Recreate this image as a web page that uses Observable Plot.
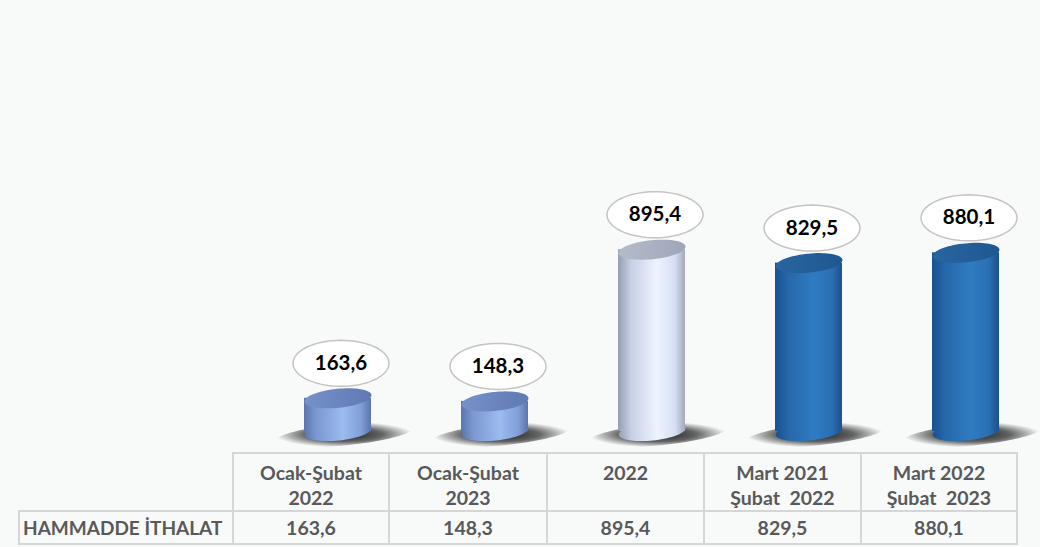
<!DOCTYPE html>
<html>
<head>
<meta charset="utf-8">
<script src="https://cdn.jsdelivr.net/npm/d3@7"></script>
<script src="https://cdn.jsdelivr.net/npm/@observablehq/plot@0.6"></script>
<style>
  html, body { margin: 0; padding: 0; background: #f8f9f9; }
  #wrap { position: relative; width: 1040px; height: 547px; overflow: hidden; font-family: Lato, "Open Sans", sans-serif; }
  #chart { position: absolute; left: 0; top: 0; }
  #tbl { position: absolute; left: 18px; top: 452px; border-collapse: collapse; table-layout: fixed; }
  #tbl td { border: 2px solid #d6d6d6; color: #595959; font-weight: bold; font-size: 19.5px; text-align: center; padding: 0; white-space: pre; }
  #tbl tr.head td { height: 58px; vertical-align: top; line-height: 25px; padding-top: 6px; box-sizing: border-box; }
  #tbl tr.head td.blank { border: none; }
  #tbl tr.vals td { height: 31px; vertical-align: middle; line-height: 31px; }
  #tbl td.name { text-align: left; padding-left: 3px; font-size: 19px; }
</style>
</head>
<body>
<div id="wrap"><div id="chart"></div><table id="tbl"></table></div>
<script>
// ---- data ----
const categories = ["Ocak-Şubat 2022", "Ocak-Şubat 2023", "2022", "Mart 2021 Şubat 2022", "Mart 2022 Şubat 2023"];
const headerLines = [["Ocak-Şubat", "2022"], ["Ocak-Şubat", "2023"], ["2022"], ["Mart 2021", "Şubat  2022"], ["Mart 2022", "Şubat  2023"]];
const values = [163.6, 148.3, 895.4, 829.5, 880.1];
const seriesName = "HAMMADDE İTHALAT";

// ---- helpers ----
const fmt = v => v.toFixed(1).replace(".", ",");
const toneOf = i => (i < 2 ? "light" : i === 2 ? "pale" : "dark");
const rows = categories.map((c, i) => ({cat: c, value: values[i], tone: toneOf(i)}));

function ellipse(rx, ry, rot = 0) {
  const c = Math.cos(rot), s = Math.sin(rot);
  return {
    draw(ctx) {
      const n = 72;
      for (let i = 0; i <= n; i++) {
        const t = 2 * Math.PI * i / n;
        const x = rx * Math.cos(t), y = ry * Math.sin(t);
        const X = x * c - y * s, Y = x * s + y * c;
        if (i === 0) ctx.moveTo(X, Y); else ctx.lineTo(X, Y);
      }
      ctx.closePath();
    }
  };
}
const tilt = -0.1;

const svg = Plot.plot({
  width: 1040,
  height: 452,
  margin: 0,
  style: {background: "transparent", fontFamily: "Lato, 'Open Sans', sans-serif", overflow: "visible"},
  x: {type: "band", domain: categories, range: [258, 1044], padding: 0, axis: null},
  y: {domain: [0, 1000], range: [431, 228], axis: null},
  color: {type: "identity"},
  marks: [
    Plot.dot(rows, {x: "cat", y: d => 0, r: 5, dx: 6, dy: 3, symbol: ellipse(70, 11, tilt), fill: d => "url(#shadow)"}),
    Plot.dot(rows, {x: "cat", y: d => 0, r: 5, symbol: ellipse(33.5, 9, tilt), fill: d => `url(#body-${d.tone})`}),
    Plot.barY(rows, {x: "cat", y: "value", insetLeft: 45, insetRight: 45, fill: d => `url(#body-${d.tone})`}),
    Plot.dot(rows, {x: "cat", y: "value", r: 5, symbol: ellipse(33.6, 9.5, tilt), fill: d => `url(#top-${d.tone})`}),
    Plot.dot(rows, {x: "cat", y: "value", r: 5, dx: 3, dy: -35, symbol: ellipse(48, 23), fill: "white", stroke: "#c4c4c4", strokeWidth: 1.5}),
    Plot.text(rows, {x: "cat", y: "value", text: d => fmt(d.value), dx: 3, dy: -35, fontSize: 20.5, fontWeight: "bold", fill: "black"})
  ]
});

// gradients
const defs = d3.select(svg).insert("defs", ":first-child");
function lin(id, stops) {
  const g = defs.append("linearGradient").attr("id", id).attr("x1", "0%").attr("x2", "100%").attr("y1", "0%").attr("y2", "0%");
  stops.forEach(([o, c]) => g.append("stop").attr("offset", o).attr("stop-color", c));
}
lin("body-light", [["0%", "#5a76b0"], ["18%", "#7b98d0"], ["58%", "#9cbbef"], ["85%", "#819fd8"], ["100%", "#5b75ad"]]);
lin("top-light", [["0%", "#7792cb"], ["100%", "#5f7ab3"]]);
lin("body-pale", [["0%", "#959db3"], ["20%", "#c8d1e5"], ["58%", "#eef3ff"], ["85%", "#d6dff2"], ["100%", "#a2a9bc"]]);
lin("top-pale", [["0%", "#b4bccc"], ["100%", "#9ea6b8"]]);
lin("body-dark", [["0%", "#1a5090"], ["20%", "#2668aa"], ["58%", "#2f7bc2"], ["85%", "#2a6fb2"], ["100%", "#1c508c"]]);
lin("top-dark", [["0%", "#2a64a0"], ["100%", "#1f5890"]]);
const rg = defs.append("radialGradient").attr("id", "shadow");
rg.append("stop").attr("offset", "0%").attr("stop-color", "#000").attr("stop-opacity", 0.9);
rg.append("stop").attr("offset", "55%").attr("stop-color", "#000").attr("stop-opacity", 0.6);
rg.append("stop").attr("offset", "100%").attr("stop-color", "#000").attr("stop-opacity", 0);

document.getElementById("chart").appendChild(svg);

// table
const tbl = d3.select("#tbl");
tbl.append("colgroup").selectAll("col").data([214, 156, 158, 157, 157, 156]).join("col").style("width", d => d + "px");
const head = tbl.append("tr").attr("class", "head");
head.append("td").attr("class", "blank");
head.selectAll("td.h").data(headerLines).join("td").attr("class", "h").text(d => d.join("\n"));
const vals = tbl.append("tr").attr("class", "vals");
vals.append("td").attr("class", "name").text(seriesName);
vals.selectAll("td.v").data(values).join("td").attr("class", "v").text(d => fmt(d));
</script>
</body>
</html>
